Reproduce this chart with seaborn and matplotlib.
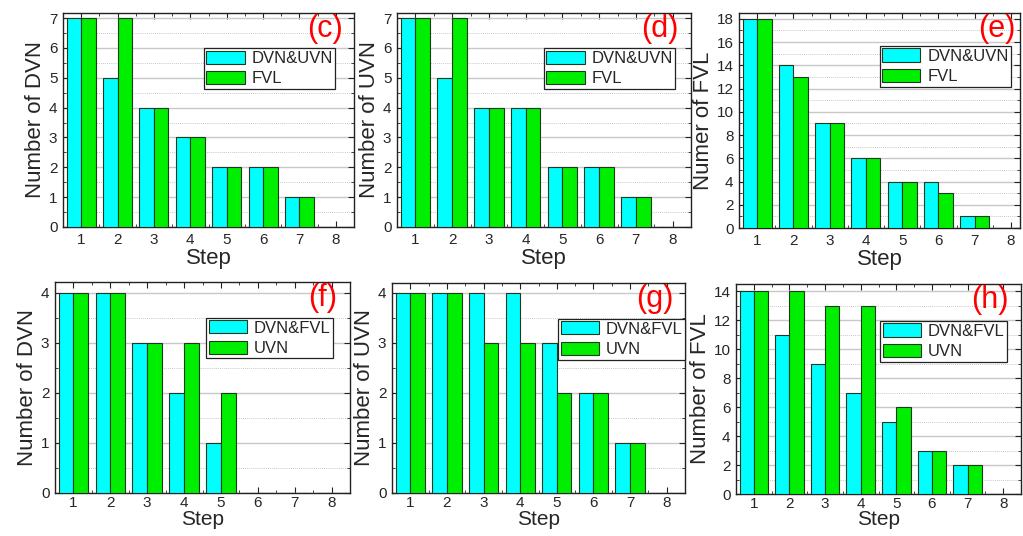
import matplotlib
matplotlib.use("Agg")
import matplotlib.pyplot as plt
import seaborn as sns
import pandas as pd
from matplotlib.patches import Patch
from matplotlib.ticker import MultipleLocator

sns.set_style("white")
plt.rcParams['font.family'] = ['Liberation Sans', 'DejaVu Sans']

steps = ["1", "2", "3", "4", "5", "6", "7", "8"]

c_dvn_uvn = [7, 5, 4, 3, 2, 2, 1, 0]
c_fvl = [7, 7, 4, 3, 2, 2, 1, 0]
d_dvn_uvn = [7, 5, 4, 4, 2, 2, 1, 0]
d_fvl = [7, 7, 4, 4, 2, 2, 1, 0]
e_dvn_uvn = [18, 14, 9, 6, 4, 4, 1, 0]
e_fvl = [18, 13, 9, 6, 4, 3, 1, 0]
f_dvn_fvl = [4, 4, 3, 2, 1, 0, 0, 0]
f_uvn = [4, 4, 3, 3, 2, 0, 0, 0]
g_dvn_fvl = [4, 4, 4, 4, 3, 2, 1, 0]
g_uvn = [4, 4, 3, 3, 2, 2, 1, 0]
h_dvn_fvl = [14, 11, 9, 7, 5, 3, 2, 0]
h_uvn = [14, 14, 13, 13, 6, 3, 2, 0]

colors = ["#00ffff", "#00ee00"]

panels = [
    ("(c)", ["DVN&UVN", "FVL"], c_dvn_uvn, c_fvl, "Number of DVN", 7.17, 1, (63, 13, 354, 227), (0.935, 0.836), 0.962, 7.5, 1, 4, 16),
    ("(d)", ["DVN&UVN", "FVL"], d_dvn_uvn, d_fvl, "Number of UVN", 7.17, 1, (397, 13, 691, 227), (0.946, 0.836), 0.958, 7.5, 1, 4, 16),
    ("(e)", ["DVN&UVN", "FVL"], e_dvn_uvn, e_fvl, "Numer of FVL", 18.5, 2, (739, 13, 1020, 228), (0.968, 0.847), 0.984, 7.25, 1, 4, 16),
    ("(f)", ["DVN&FVL", "UVN"], f_dvn_fvl, f_uvn, "Number of DVN", 4.22, 1, (55, 282, 350, 493), (0.942, 0.831), 0.958, 7.5, 0, 2, 15),
    ("(g)", ["DVN&FVL", "UVN"], g_dvn_fvl, g_uvn, "Number of UVN", 4.2, 1, (392, 283, 685, 493), (1.0, 0.83), 0.962, 7.5, 0, 2, 15),
    ("(h)", ["DVN&FVL", "UVN"], h_dvn_fvl, h_uvn, "Number of FVL", 14.5, 2, (736, 284, 1021, 494), (0.951, 0.825), 0.956, 7.5, -0.5, 2, 15),
]

W, H = 1023, 536
fig = plt.figure(figsize=(W / 100, H / 100), dpi=100)

for tag, names, s1, s2, ylabel, ymax, ystep, box, lanchor, tagx, xr, xpad, tpad, xfs in panels:
    l, t, r, b = box
    ax = fig.add_axes([l / W, 1 - b / H, (r - l) / W, (b - t) / H])
    df = pd.DataFrame({
        "Step": steps * 2,
        "Value": list(s1) + list(s2),
        "Series": [names[0]] * len(steps) + [names[1]] * len(steps),
    })
    ax.set_axisbelow(True)
    sns.barplot(data=df, x="Step", y="Value", hue="Series", order=steps,
                hue_order=names, palette=colors, saturation=1, width=0.8, gap=0,
                edgecolor="#1e3a1e", linewidth=0.8, legend=False, ax=ax, zorder=3)
    ax.set_xlim(-0.5, xr)
    ax.set_ylim(0, ymax)
    ax.yaxis.set_major_locator(MultipleLocator(ystep))
    ax.yaxis.set_minor_locator(MultipleLocator(ystep / 2))
    ax.xaxis.set_minor_locator(MultipleLocator(0.5))
    ax.grid(which="major", axis="y", color="#c8c8c8", linewidth=1.0, linestyle="-", zorder=0)
    ax.grid(which="minor", axis="y", color="#b4b4b4", linewidth=0.6, linestyle=(0, (1, 1.5)), zorder=0)
    ax.tick_params(which="both", direction="in", top=True, right=True, bottom=True, left=True,
                   color="#222222")
    ax.tick_params(which="major", length=4, width=0.8, labelsize=11, pad=4)
    ax.tick_params(axis="x", which="major", pad=tpad)
    ax.tick_params(which="minor", length=2.5, width=0.6)
    for sp in ax.spines.values():
        sp.set_visible(True)
        sp.set_color("#222222")
        sp.set_linewidth(1.0)
    ax.set_xlabel("Step", fontsize=xfs, labelpad=xpad)
    ax.set_ylabel(ylabel, fontsize=16, labelpad=2)
    handles = [Patch(facecolor=colors[0], edgecolor="#1e3a1e", linewidth=0.8),
               Patch(facecolor=colors[1], edgecolor="#1e3a1e", linewidth=0.8)]
    leg = ax.legend(handles, names, loc="upper right", bbox_to_anchor=lanchor,
                    borderaxespad=0, fontsize=12, frameon=True, fancybox=False,
                    handlelength=2.3, handleheight=0.85, handletextpad=0.4,
                    labelspacing=0.3, borderpad=0.15, framealpha=1)
    leg.get_frame().set_edgecolor("#222222")
    leg.get_frame().set_linewidth(0.9)
    leg.set_zorder(5)
    ax.text(tagx, 0.995, tag, transform=ax.transAxes, ha="right", va="top",
            color="red", fontsize=22, zorder=6)

fig.savefig("out.png", dpi=100)
